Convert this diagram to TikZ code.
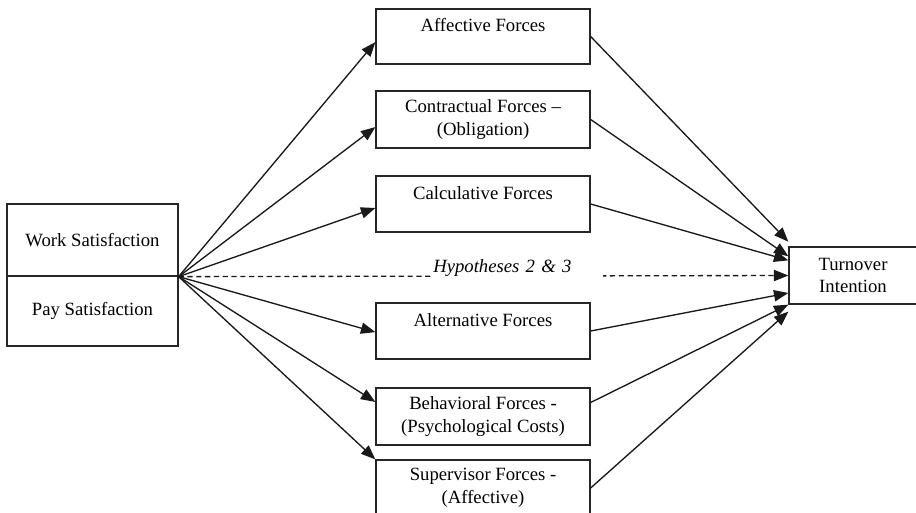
\documentclass[tikz,border=0pt]{standalone}
\usepackage{fontspec}
\setmainfont{Liberation Serif}
\usetikzlibrary{arrows.meta,calc}
\begin{document}
\begin{tikzpicture}[x=0.025cm,y=-0.025cm,
  font=\fontsize{13.3}{16.3}\selectfont,
  box/.style={draw=black!85,line width=0.9pt,rectangle,inner sep=0pt,align=center},
  midbox/.style={box,minimum width=5.35cm},
  conn/.style={line width=0.95pt,draw=black!90,-{Triangle[length=3.6mm,width=2.8mm]}},
  dashconn/.style={conn,dash pattern=on 0.13cm off 0.09cm}]
\clip (0,0) rectangle (916,513);
% left boxes
\node[box,minimum width=4.275cm,minimum height=1.8cm] (work) at (92.5,240) {Work Satisfaction};
\node[box,minimum width=4.275cm,minimum height=1.75cm] (pay) at (92.5,311) {Pay Satisfaction};
\coordinate (src) at (work.south east);
% middle boxes
\node[midbox,minimum height=1.375cm] (aff) at (483,36.5) {Affective Forces\\ \mbox{}};
\node[midbox,minimum height=1.425cm] (contr) at (483,119.5) {Contractual Forces --\\(Obligation)};
\node[midbox,minimum height=1.4cm] (calc) at (483,204) {Calculative Forces\\ \mbox{}};
\node[midbox,minimum height=1.4cm] (alt) at (483,331) {Alternative Forces\\ \mbox{}};
\node[midbox,minimum height=1.425cm] (beh) at (483,416.5) {Behavioral Forces -\\(Psychological Costs)};
\node[midbox,minimum height=1.4cm] (sup) at (483,488) {Supervisor Forces -\\(Affective)};
% right box
\node[box,minimum width=3.2cm,minimum height=1.425cm] (turn) at (853,275.5) {Turnover\\Intention};
% left arrows
\draw[conn] (src) -- ($(aff.north west)!0.6!(aff.south west)$);
\draw[conn] (src) -- ($(contr.north west)!0.63!(contr.south west)$);
\draw[conn] (src) -- ($(calc.north west)!0.57!(calc.south west)$);
\draw[conn] (src) -- ($(alt.north west)!0.52!(alt.south west)$);
\draw[conn] (src) -- ($(beh.north west)!0.25!(beh.south west)$);
\draw[conn] (src) -- (sup.north west);
% right arrows
\draw[conn] (aff.east) -- ($(turn.north west)!-0.08!(turn.south west)$);
\draw[conn] (contr.east) -- ($(turn.north west)!0.17!(turn.south west)$);
\draw[conn] (calc.east) -- ($(turn.north west)!0.24!(turn.south west)$);
\draw[conn] (alt.east) -- ($(turn.north west)!0.8!(turn.south west)$);
\draw[conn] ($(beh.north east)!0.26!(beh.south east)$) -- ($(turn.north west)!1.0!(turn.south west)$);
\draw[conn] (sup.east) -- ($(turn.north west)!1.12!(turn.south west)$);
% dashed hypothesis
\draw[dashconn] (src) -- (turn.west);
\node[fill=white,inner sep=0pt,anchor=base west,text width=4.25cm,align=left] (hyp) at (433,272.5) {\textit{Hypotheses 2 \& 3}};
\end{tikzpicture}
\end{document}
